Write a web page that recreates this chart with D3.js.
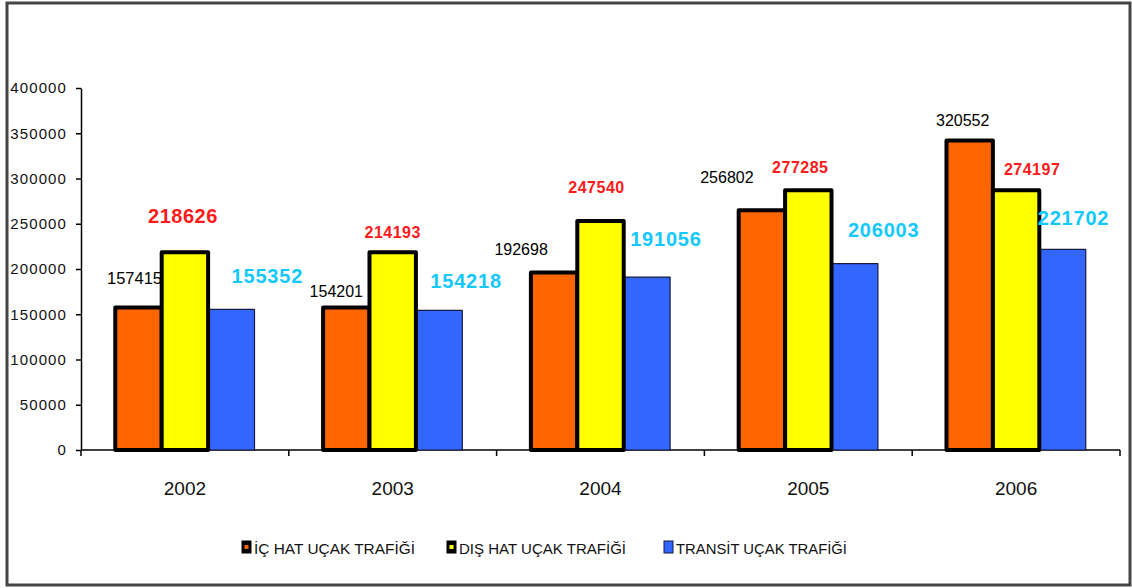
<!DOCTYPE html>
<html>
<head>
<meta charset="utf-8">
<script src="https://cdn.jsdelivr.net/npm/d3@7"></script>
<style>
    body { margin: 0; background: #fff; }
    #vis { width: 1132px; height: 588px; display: block; font-family: Arial, "Liberation Sans", sans-serif; }
</style>
</head>
<body>
<svg id="vis"></svg>
<script>
/**
 * Hava trafigi 2002-2006 : bar chart with hand placed labels
 */

const svg = d3.select('#vis');
const WIDTH = parseInt(svg.style("width"), 10);
const HEIGHT = parseInt(svg.style("height"), 10);

// data
const years = ['2002', '2003', '2004', '2005', '2006'];
// bar heights as drawn in the picture
const icHat = [157415, 157415, 196000, 265000, 342000];
const disHat = [218626, 218626, 253000, 287000, 287000];
const transit = [155352, 154218, 191056, 206003, 221702];
// label texts as printed
const icHatLabels = ['157415', '154201', '192698', '256802', '320552'];
const disHatLabels = ['218626', '214193', '247540', '277285', '274197'];
const transitLabels = ['155352', '154218', '191056', '206003', '221702'];
const yTicks = [0, 50000, 100000, 150000, 200000, 250000, 300000, 350000, 400000];
const legendNames = ['İÇ HAT UÇAK TRAFİĞİ', 'DIŞ HAT UÇAK TRAFİĞİ', 'TRANSİT UÇAK TRAFİĞİ'];

// label placement (dx from bar centre, dy from bar top), moved by hand like in excel
const icOffsets = [[-4, -24], [-10, -11], [-33, -18], [-35, -27], [-7, -14]];
const disOffsets = [[-2, -29], [0, -14], [-4, -28], [-8, -17], [16, -15]];
const trOffsets = [[36, -26], [27, -22], [19, -31], [29, -27], [11, -24]];

const series = [
    {key: 'ic', name: legendNames[0], values: icHat, labels: icHatLabels, offsets: icOffsets,
        fill: '#FF6600', stroke: '#000', sw: 4, color: '#000', weight: 'normal',
        size: [16.5, 16, 16, 16, 16], spacing: 0, legendW: 161},
    {key: 'dis', name: legendNames[1], values: disHat, labels: disHatLabels, offsets: disOffsets,
        fill: '#FFFF00', stroke: '#000', sw: 4, color: '#FF1A1A', weight: 'bold',
        size: [20, 16, 16, 16, 16], spacing: 0.5, legendW: 167},
    {key: 'tr', name: legendNames[2], values: transit, labels: transitLabels, offsets: trOffsets,
        fill: '#3366FF', stroke: '#1a1a40', sw: 1.2, color: '#12C8FF', weight: 'bold',
        size: [20, 20, 20, 20, 20], spacing: 0.8, legendW: 171}
];

svg.attr('width', WIDTH).attr('height', HEIGHT);

// outer frame
svg.append('rect')
    .attr('x', 7)
    .attr('y', 3)
    .attr('width', WIDTH - 9)
    .attr('height', HEIGHT - 6)
    .attr('fill', '#fff')
    .attr('stroke', '#444')
    .attr('stroke-width', 3);

var x = d3.scaleBand()
    .domain(years)
    .range([81, 1120])
    .paddingInner(0.33)
    .paddingOuter(0.165);

var xs = d3.scaleBand()
    .domain(series.map(function (s) { return s.key; }))
    .range([0, x.bandwidth()]);

var y = d3.scaleLinear()
    .domain([0, 400000])
    .range([450, 88]);

// y axis
var yAxis = svg.append('g')
    .attr('transform', 'translate(81,0)')
    .call(d3.axisLeft(y).tickValues(yTicks).tickSize(5).tickSizeOuter(0).tickPadding(9).tickFormat(d3.format('d')));
yAxis.select('.domain').attr('stroke', '#000').attr('stroke-width', 1.5);
yAxis.selectAll('.tick line').attr('stroke', '#000').attr('stroke-width', 1.5);
yAxis.selectAll('text')
    .attr('font-family', 'Arial, "Liberation Sans", sans-serif')
    .attr('font-size', 15)
    .attr('letter-spacing', 1.1)
    .attr('fill', '#111');

// x axis : labels in the middle, ticks on the band edges
var xAxis = svg.append('g')
    .attr('transform', 'translate(0,450)')
    .call(d3.axisBottom(x).tickSize(0).tickSizeOuter(0));
xAxis.select('.domain').remove();
xAxis.selectAll('text')
    .attr('y', 45)
    .attr('dy', 0)
    .attr('font-family', 'Arial, "Liberation Sans", sans-serif')
    .attr('font-size', 19)
    .attr('fill', '#111');

var r = x.range();
svg.append('line')
    .attr('x1', r[0]).attr('x2', r[1])
    .attr('y1', 450).attr('y2', 450)
    .attr('stroke', '#000')
    .attr('stroke-width', 1.5);

svg.selectAll('.xtick')
    .data(d3.range(years.length + 1))
    .enter().append('line')
    .attr('class', 'xtick')
    .attr('x1', function (i) { return r[0] + i * x.step(); })
    .attr('x2', function (i) { return r[0] + i * x.step(); })
    .attr('y1', 450)
    .attr('y2', 456)
    .attr('stroke', '#000')
    .attr('stroke-width', 1.5);

function labelX(s, i) {
    return x(years[i]) + xs(s.key) + xs.bandwidth() / 2 + s.offsets[i][0];
}

function labelY(s, i) {
    return y(s.values[i]) + s.offsets[i][1];
}

function drawLabels(s) {
    svg.append('g')
        .selectAll('text')
        .data(s.labels)
        .enter().append('text')
        .attr('x', function (d, i) { return labelX(s, i); })
        .attr('y', function (d, i) { return labelY(s, i); })
        .attr('text-anchor', 'middle')
        .attr('font-family', 'Arial, "Liberation Sans", sans-serif')
        .attr('font-weight', s.weight)
        .attr('font-size', function (d, i) { return s.size[i]; })
        .attr('letter-spacing', s.spacing)
        .attr('fill', s.color)
        .text(function (d) { return d; });
}

// black labels sit under the bars (the yellow bar cuts 157415)
drawLabels(series[0]);

// bars : blue first, then orange, then yellow on top
[series[2], series[0], series[1]].forEach(function (s) {
    svg.append('g')
        .selectAll('rect')
        .data(s.values)
        .enter().append('rect')
        .attr('x', function (d, i) { return x(years[i]) + xs(s.key); })
        .attr('y', function (d) { return y(d); })
        .attr('width', xs.bandwidth())
        .attr('height', function (d) { return y(0) - y(d); })
        .attr('fill', s.fill)
        .attr('stroke', s.stroke)
        .attr('stroke-width', s.sw)
        .attr('stroke-linejoin', 'round');
});

drawLabels(series[1]);
drawLabels(series[2]);

// legend
var legendX = [242, 447, 664];
var legend = svg.selectAll('.legend')
    .data(series)
    .enter().append('g')
    .attr('class', 'legend')
    .attr('transform', function (d, i) { return 'translate(' + legendX[i] + ',541)'; });

legend.append('rect')
    .attr('width', 9)
    .attr('height', 12)
    .attr('fill', function (d) { return d.key == 'tr' ? d.fill : '#000'; })
    .attr('stroke', function (d) { return d.key == 'tr' ? '#1a1a40' : '#000'; })
    .attr('stroke-width', 1);

legend.filter(function (d) { return d.key != 'tr'; })
    .append('rect')
    .attr('x', 2.5)
    .attr('y', 4)
    .attr('width', 4)
    .attr('height', 4)
    .attr('fill', function (d) { return d.fill; });

legend.append('text')
    .attr('x', 12)
    .attr('y', 13)
    .attr('font-family', 'Arial, "Liberation Sans", sans-serif')
    .attr('font-size', 15)
    .attr('fill', '#111')
    .attr('textLength', function (d) { return d.legendW; })
    .attr('lengthAdjust', 'spacingAndGlyphs')
    .text(function (d) { return d.name; });
</script>
</body>
</html>
